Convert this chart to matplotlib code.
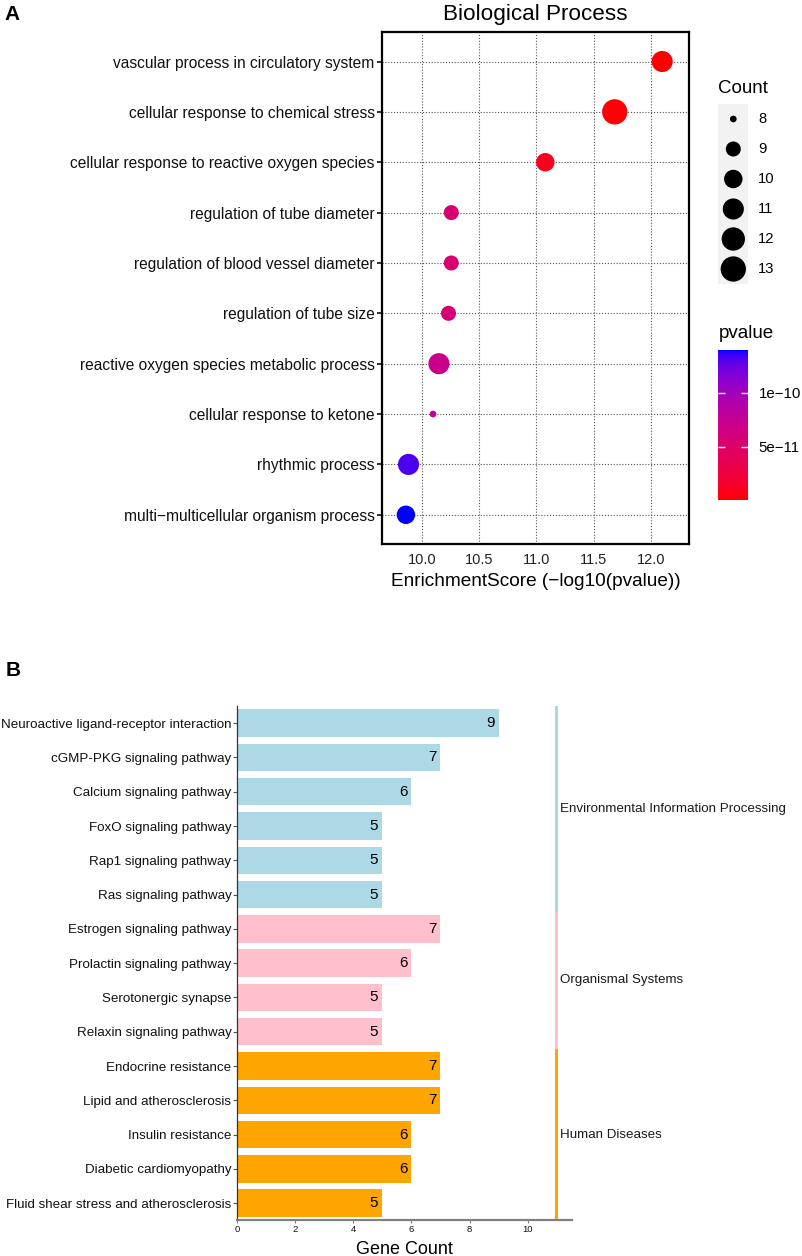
import numpy as np
import matplotlib
matplotlib.use('Agg')
import matplotlib.pyplot as plt
from matplotlib.colors import LinearSegmentedColormap, Normalize
from matplotlib.cm import ScalarMappable
from matplotlib.ticker import FormatStrFormatter

plt.rcParams['font.family'] = ['Liberation Sans', 'DejaVu Sans']

# ---------------- Panel A data ----------------
bp_terms = [
    "vascular process in circulatory system",
    "cellular response to chemical stress",
    "cellular response to reactive oxygen species",
    "regulation of tube diameter",
    "regulation of blood vessel diameter",
    "regulation of tube size",
    "reactive oxygen species metabolic process",
    "cellular response to ketone",
    "rhythmic process",
    "multi\u2212multicellular organism process",
]
bp_score = [12.10, 11.685, 11.077, 10.254, 10.254, 10.23, 10.146, 10.094, 9.88, 9.857]
bp_count = [11, 13, 10, 9, 9, 9, 11, 8, 11, 10]
count_breaks = [8, 9, 10, 11, 12, 13]
x_ticks_a = [10.0, 10.5, 11.0, 11.5, 12.0]
pval_ticks = [5e-11, 1e-10]
pval_ticklabels = ["5e\u221211", "1e\u221210"]

# ---------------- Panel B data ----------------
kegg_terms = [
    "Neuroactive ligand-receptor interaction",
    "cGMP-PKG signaling pathway",
    "Calcium signaling pathway",
    "FoxO signaling pathway",
    "Rap1 signaling pathway",
    "Ras signaling pathway",
    "Estrogen signaling pathway",
    "Prolactin signaling pathway",
    "Serotonergic synapse",
    "Relaxin signaling pathway",
    "Endocrine resistance",
    "Lipid and atherosclerosis",
    "Insulin resistance",
    "Diabetic cardiomyopathy",
    "Fluid shear stress and atherosclerosis",
]
kegg_count = [9, 7, 6, 5, 5, 5, 7, 6, 5, 5, 7, 7, 6, 6, 5]
kegg_group = ["Environmental Information Processing"] * 6 + ["Organismal Systems"] * 4 + ["Human Diseases"] * 5
group_names = ["Environmental Information Processing", "Organismal Systems", "Human Diseases"]
group_colors = {"Environmental Information Processing": "#ADD8E6",
                "Organismal Systems": "#FFC0CB",
                "Human Diseases": "#FFA500"}
x_ticks_b = [0, 2, 4, 6, 8, 10]
group_bar_x = 11

# ---------------- helpers ----------------
W, H = 803, 1256
fig = plt.figure(figsize=(W / 100, H / 100), dpi=100)
fig.patch.set_facecolor('white')


def px(l, t, r, b):
    return [l / W, 1 - b / H, (r - l) / W, (b - t) / H]


def srgb_to_lab(rgb):
    rgb = np.asarray(rgb, float)
    lin = np.where(rgb <= 0.04045, rgb / 12.92, ((rgb + 0.055) / 1.055) ** 2.4)
    M = np.array([[0.4124, 0.3576, 0.1805], [0.2126, 0.7152, 0.0722], [0.0193, 0.1192, 0.9505]])
    xyz = M @ lin
    wp = np.array([0.95047, 1.0, 1.08883])
    t = xyz / wp
    f = np.where(t > (6 / 29) ** 3, np.cbrt(t), t / (3 * (6 / 29) ** 2) + 4 / 29)
    return np.array([116 * f[1] - 16, 500 * (f[0] - f[1]), 200 * (f[1] - f[2])])


def lab_to_srgb(lab):
    L, a, b = lab
    fy = (L + 16) / 116
    fx = fy + a / 500
    fz = fy - b / 200
    f = np.array([fx, fy, fz])
    t = np.where(f > 6 / 29, f ** 3, 3 * (6 / 29) ** 2 * (f - 4 / 29))
    xyz = t * np.array([0.95047, 1.0, 1.08883])
    Minv = np.array([[3.2406, -1.5372, -0.4986], [-0.9689, 1.8758, 0.0415], [0.0557, -0.2040, 1.0570]])
    lin = Minv @ xyz
    lin = np.clip(lin, 0, 1)
    rgb = np.where(lin <= 0.0031308, 12.92 * lin, 1.055 * lin ** (1 / 2.4) - 0.055)
    return np.clip(rgb, 0, 1)


lab_lo = srgb_to_lab([1, 0, 0])
lab_hi = srgb_to_lab([0, 0, 1])
cols = [lab_to_srgb(lab_lo + (lab_hi - lab_lo) * f) for f in np.linspace(0, 1, 256)]
cmap = LinearSegmentedColormap.from_list('redblue_lab', cols)


def dot_size(v):
    v = np.asarray(v, float)
    lo, hi = min(count_breaks), max(count_breaks)
    d_px = 6.7 + (25.3 - 6.7) * np.sqrt((v - lo) / (hi - lo))
    return (d_px * 0.72) ** 2


# ---------------- Panel A ----------------
axA = fig.add_axes(px(381.7, 32.3, 689, 544))
ya = np.arange(len(bp_terms))
pvals = 10.0 ** (-np.array(bp_score))
norm = Normalize(pvals.min(), pvals.max())
axA.scatter(bp_score, ya, s=dot_size(bp_count), c=pvals, cmap=cmap, norm=norm,
            linewidths=0, zorder=3)
axA.set_xlim(9.645, 12.335)
axA.set_ylim(len(bp_terms) - 1 + 0.58, -0.58)
axA.set_xticks(x_ticks_a)
axA.xaxis.set_major_formatter(FormatStrFormatter('%.1f'))
axA.set_xticks(np.arange(9.75, 12.3, 0.5), minor=True)
axA.set_yticks(ya)
axA.set_yticklabels(bp_terms)
axA.grid(True, which='major', color='#555555', linestyle=(0, (1, 1.6)), linewidth=0.8, zorder=1)
axA.set_axisbelow(True)
for s in axA.spines.values():
    s.set_linewidth(1.6)
    s.set_color('black')
axA.tick_params(axis='x', which='major', length=0, pad=6.5, labelsize=10.5, labelcolor='#222222')
axA.tick_params(axis='x', which='minor', direction='inout', length=5, width=1.3,
                color='white', top=True, bottom=True)
axA.tick_params(axis='y', which='major', length=3.6, width=1.3, pad=1.5, labelsize=11.2,
                color='#222222', labelcolor='#111111')

fig.text(535.4 / W, 1 - 20 / H, "Biological Process", ha='center', va='baseline', fontsize=16.2)
fig.text(535.4 / W, 1 - 586 / H, "EnrichmentScore (\u2212log10(pvalue))", ha='center',
         va='baseline', fontsize=13.7)

# Count legend
fig.text(718.3 / W, 1 - 93.3 / H, "Count", ha='left', va='baseline', fontsize=13.5)
lax = fig.add_axes(px(718.3, 104, 748.3, 284))
lax.set_facecolor('#F2F2F2')
lax.set_xlim(0, 1)
lax.set_ylim(len(count_breaks), 0)
ly = np.arange(len(count_breaks)) + 0.5
lax.scatter([0.5] * len(count_breaks), ly, s=dot_size(count_breaks), color='black', linewidths=0)
for yy, c in zip(ly, count_breaks):
    lax.text(1.333, yy, str(c), ha='left', va='center', fontsize=10.6, clip_on=False)
for s in lax.spines.values():
    s.set_visible(False)
lax.set_xticks([])
lax.set_yticks([])

# pvalue colorbar
fig.text(718.3 / W, 1 - 338 / H, "pvalue", ha='left', va='baseline', fontsize=13.5)
cax = fig.add_axes(px(718.3, 350.3, 748.3, 500))
cb = fig.colorbar(ScalarMappable(norm=norm, cmap=cmap), cax=cax)
cb.outline.set_visible(False)
cb.set_ticks(pval_ticks)
cb.set_ticklabels(pval_ticklabels)
cax.minorticks_off()
cax.tick_params(which='major', direction='in', length=5, width=1, color='white',
                left=True, right=True, labelsize=10.8, pad=7.5)

fig.text(4 / W, 1 - 20 / H, "A", ha='left', va='baseline', fontsize=15, fontweight='bold')

# ---------------- Panel B ----------------
axB = fig.add_axes(px(237.3, 706, 571.7, 1220.3))
yb = np.arange(len(kegg_terms))
bar_colors = [group_colors[g] for g in kegg_group]
axB.barh(yb, kegg_count, height=0.8, color=bar_colors, zorder=2)
for y, v in zip(yb, kegg_count):
    axB.annotate(str(v), (v, y), xytext=(-3, 0), textcoords='offset points',
                 ha='right', va='center', fontsize=11, color='black')
# group side bar
axB.barh(yb, [0.13] * len(yb), left=group_bar_x - 0.065, height=1.0, color=bar_colors,
         linewidth=0, zorder=2)
for g in group_names:
    idx = [i for i, gg in enumerate(kegg_group) if gg == g]
    axB.text(group_bar_x + 0.11, (min(idx) + max(idx)) / 2, g, ha='left', va='center',
             fontsize=9.6, color='#1a1a1a', clip_on=False)
axB.set_xlim(0, 11.52)
axB.set_ylim(len(kegg_terms) - 0.5, -0.5)
axB.set_xticks(x_ticks_b)
axB.set_yticks(yb)
axB.set_yticklabels(kegg_terms)
axB.spines['top'].set_visible(False)
axB.spines['right'].set_visible(False)
axB.spines['left'].set_color('#333333')
axB.spines['left'].set_linewidth(0.9)
axB.spines['bottom'].set_color('#808080')
axB.spines['bottom'].set_linewidth(1.6)
axB.tick_params(axis='x', length=1.8, width=0.8, color='#808080', pad=1.5, labelsize=6.8,
                labelcolor='#111111')
axB.tick_params(axis='y', length=3, width=0.8, color='#555555', pad=1.2, labelsize=9.6,
                labelcolor='#111111')
fig.text(404.5 / W, 1 - 1254 / H, "Gene Count", ha='center', va='baseline', fontsize=13)

fig.text(6 / W, 1 - 676 / H, "B", ha='left', va='baseline', fontsize=15, fontweight='bold')

fig.savefig('out.png', dpi=100)
